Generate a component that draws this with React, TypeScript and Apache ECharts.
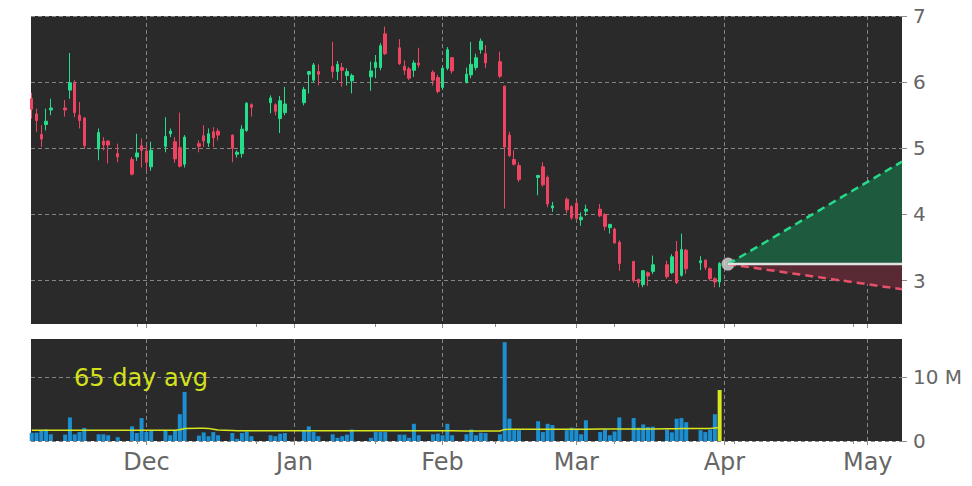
import { useEffect, useRef } from 'react';
import * as echarts from 'echarts';

// trading days, one line per week
const tradeDates = [
  '2022-11-07', '2022-11-08', '2022-11-09', '2022-11-10', '2022-11-11',
  '2022-11-14', '2022-11-15', '2022-11-16', '2022-11-17', '2022-11-18',
  '2022-11-21', '2022-11-22', '2022-11-23', '2022-11-25',
  '2022-11-28', '2022-11-29', '2022-11-30', '2022-12-01', '2022-12-02',
  '2022-12-05', '2022-12-06', '2022-12-07', '2022-12-08', '2022-12-09',
  '2022-12-12', '2022-12-13', '2022-12-14', '2022-12-15', '2022-12-16',
  '2022-12-19', '2022-12-20', '2022-12-21', '2022-12-22', '2022-12-23',
  '2022-12-27', '2022-12-28', '2022-12-29', '2022-12-30',
  '2023-01-03', '2023-01-04', '2023-01-05', '2023-01-06',
  '2023-01-09', '2023-01-10', '2023-01-11', '2023-01-12', '2023-01-13',
  '2023-01-17', '2023-01-18', '2023-01-19', '2023-01-20',
  '2023-01-23', '2023-01-24', '2023-01-25', '2023-01-26', '2023-01-27',
  '2023-01-30', '2023-01-31', '2023-02-01', '2023-02-02', '2023-02-03',
  '2023-02-06', '2023-02-07', '2023-02-08', '2023-02-09', '2023-02-10',
  '2023-02-13', '2023-02-14', '2023-02-15', '2023-02-16', '2023-02-17',
  '2023-02-21', '2023-02-22', '2023-02-23', '2023-02-24',
  '2023-02-27', '2023-02-28', '2023-03-01', '2023-03-02', '2023-03-03',
  '2023-03-06', '2023-03-07', '2023-03-08', '2023-03-09', '2023-03-10',
  '2023-03-13', '2023-03-14', '2023-03-15', '2023-03-16', '2023-03-17',
  '2023-03-20', '2023-03-21', '2023-03-22', '2023-03-23', '2023-03-24',
  '2023-03-27', '2023-03-28', '2023-03-29', '2023-03-30', '2023-03-31',
];

const openPrices = [
  5.75, 5.52, 5.21, 5.36, 5.58,
  5.61, 5.88, 5.98, 5.5, 5.46,
  4.99, 5.11, 5.11, 4.92,
  4.83, 4.87, 5.04, 4.96, 4.72,
  5.03, 5.22, 5.1, 5.01, 4.76,
  5.07, 5.19, 5.08, 5.25, 5.26,
  5.2, 4.91, 4.92, 5.27, 5.66,
  5.69, 5.66, 5.45, 5.54,
  5.69, 6.12, 6.03, 6.16,
  6.24, 6.16, 6.22, 6.1, 6.02,
  6.08, 6.22, 6.22, 6.73,
  6.52, 6.24, 6.2, 6.18, 6.29,
  6.15, 6.07, 5.92, 6.21, 6.37,
  6.0, 6.11, 6.22, 6.49, 6.43,
  6.31, 5.94, 5.2, 4.83, 4.74,
  4.56, 4.72, 4.56, 4.1,
  4.23, 4.12, 4.17, 3.92, 4.05,
  4.08, 4.0, 3.8, 3.78, 3.58,
  3.29, 3.02, 2.94, 3.12, 3.14,
  3.24, 3.12, 3.44, 3.08, 3.46,
  3.27, 3.31, 3.18, 3.03, 2.98,
];

const closePrices = [
  5.59, 5.42, 5.14, 5.41, 5.61,
  5.58, 5.99, 5.54, 5.42, 5.04,
  5.24, 5.05, 5.05, 4.87,
  4.61, 4.93, 4.97, 4.79, 4.97,
  5.18, 5.26, 4.84, 4.73, 5.17,
  5.03, 5.11, 5.22, 5.16, 5.2,
  5.0, 4.94, 5.29, 5.68, 5.62,
  5.76, 5.56, 5.72, 5.67,
  5.89, 6.16, 6.26, 6.12,
  6.16, 6.27, 6.18, 6.16, 6.1,
  6.17, 6.3, 6.55, 6.43,
  6.28, 6.18, 6.06, 6.29, 6.26,
  6.03, 5.86, 6.21, 6.49, 6.17,
  6.12, 6.27, 6.37, 6.62, 6.29,
  6.09, 5.02, 4.89, 4.76, 4.53,
  4.59, 4.45, 4.16, 4.13,
  4.07, 3.95, 3.94, 3.96, 4.08,
  3.98, 3.82, 3.85, 3.57, 3.26,
  3.0, 2.97, 3.15, 3.07, 3.24,
  3.06, 3.36, 2.97, 3.47, 3.18,
  3.3, 3.2, 3.03, 2.98, 3.26,
];

const lowPrices = [
  5.45, 5.25, 5.02, 5.27, 5.5,
  5.48, 5.75, 5.47, 5.3, 4.99,
  4.82, 4.97, 4.77, 4.79,
  4.59, 4.81, 4.71, 4.67, 4.66,
  4.94, 5.17, 4.78, 4.71, 4.71,
  4.94, 5.02, 5.02, 5.02, 5.12,
  4.79, 4.86, 4.86, 5.25, 5.48,
  5.53, 5.5, 5.23, 5.5,
  5.65, 5.83, 6.0, 5.95,
  6.06, 6.03, 5.93, 5.95, 5.83,
  5.87, 6.06, 6.18, 6.41,
  6.26, 6.11, 6.03, 6.08, 6.22,
  5.95, 5.83, 5.88, 6.18, 6.13,
  5.98, 6.06, 6.18, 6.43, 6.21,
  6.06, 4.09, 4.87, 4.74, 4.49,
  4.29, 4.42, 4.11, 4.04,
  4.02, 3.92, 3.91, 3.83, 3.98,
  3.96, 3.76, 3.71, 3.56, 3.15,
  2.97, 2.9, 2.9, 2.92, 3.1,
  3.03, 3.1, 2.95, 3.06, 3.1,
  3.16, 3.16, 3.0, 2.9, 2.9,
];

const highPrices = [
  5.84, 5.6, 5.35, 5.6, 5.75,
  5.73, 6.44, 6.03, 5.7, 5.47,
  5.3, 5.17, 5.12, 5.07,
  4.87, 5.22, 5.15, 5.04, 5.1,
  5.47, 5.3, 5.17, 5.54, 5.2,
  5.12, 5.35, 5.3, 5.32, 5.3,
  5.21, 4.97, 5.35, 5.7, 5.68,
  5.8, 5.68, 5.79, 5.93,
  5.93, 6.17, 6.29, 6.27,
  6.61, 6.32, 6.29, 6.21, 6.13,
  6.31, 6.41, 6.59, 6.84,
  6.65, 6.33, 6.23, 6.33, 6.52,
  6.18, 6.11, 6.24, 6.53, 6.38,
  6.22, 6.61, 6.43, 6.66, 6.56,
  6.46, 5.95, 5.25, 4.97, 4.79,
  4.6, 4.79, 4.59, 4.19,
  4.26, 4.14, 4.21, 4.03, 4.15,
  4.16, 4.02, 3.86, 3.8, 3.61,
  3.3, 3.03, 3.16, 3.14, 3.38,
  3.3, 3.4, 3.6, 3.71, 3.48,
  3.37, 3.32, 3.2, 3.05, 3.28,
];

// volume, millions of shares
const volumeM = [
  1.3, 1.3, 1.7, 1.8, 1.05,
  1.0, 3.7, 1.05, 1.4, 2.05,
  1.05, 1.05, 0.9, 0.6,
  2.3, 1.25, 3.6, 1.4, 1.7,
  1.6, 0.9, 1.7, 4.2, 7.7,
  0.85, 1.35, 0.75, 1.4, 0.9,
  1.25, 0.35, 1.25, 1.5, 0.75,
  0.9, 0.75, 1.15, 1.25,
  1.7, 2.3, 1.4, 0.75,
  1.05, 0.5, 0.75, 1.0, 1.8,
  0.5, 1.4, 1.4, 1.4,
  1.0, 1.0, 0.5, 2.7, 0.9,
  1.05, 1.15, 0.9, 2.7, 0.9,
  1.05, 1.8, 0.9, 1.3, 1.25,
  1.05, 15.5, 3.5, 1.7, 1.7,
  3.1, 1.4, 2.7, 2.5,
  1.7, 2.1, 1.95, 1.05, 3.25,
  1.4, 1.8, 0.9, 1.5, 3.7,
  3.6, 2.1, 2.6, 2.2, 2.25,
  1.8, 1.35, 3.5, 3.6, 2.95,
  1.7, 1.4, 1.8, 4.2, 8.0,
];

// 65 day average volume, millions
const avgVolumeM = [
  1.7, 1.7, 1.7, 1.7, 1.7,
  1.7, 1.7, 1.7, 1.7, 1.7,
  1.7, 1.7, 1.7, 1.7,
  1.7, 1.7, 1.7, 1.7, 1.7,
  1.7, 1.7, 1.7, 1.78, 1.95,
  2.0, 2.0, 1.98, 1.86, 1.74,
  1.66, 1.62, 1.61, 1.61, 1.6,
  1.6, 1.6, 1.6, 1.6,
  1.6, 1.6, 1.6, 1.6,
  1.6, 1.6, 1.6, 1.6, 1.6,
  1.6, 1.6, 1.6, 1.6,
  1.6, 1.59, 1.59, 1.59, 1.59,
  1.59, 1.59, 1.59, 1.59, 1.59,
  1.58, 1.58, 1.58, 1.58, 1.58,
  1.58, 1.82, 1.84, 1.84, 1.84,
  1.85, 1.85, 1.85, 1.85,
  1.86, 1.86, 1.86, 1.86, 1.86,
  1.87, 1.87, 1.87, 1.87, 1.87,
  1.9, 1.9, 1.9, 1.9, 1.9,
  1.92, 1.92, 1.94, 1.95, 1.96,
  1.96, 1.97, 1.98, 2.05, 2.1,
];

const monthTicks = ['2022-12-01', '2023-01-01', '2023-02-01', '2023-03-01', '2023-04-01', '2023-05-01'];
const minorTicks = ['2022-11-29', '2022-12-24', '2023-01-18', '2023-02-12', '2023-03-09', '2023-04-03', '2023-04-28'];
const monthNames = ['Jan', 'Feb', 'Mar', 'Apr', 'May', 'Jun', 'Jul', 'Aug', 'Sep', 'Oct', 'Nov', 'Dec'];
const priceTicks = [3, 4, 5, 6, 7];
const volumeTicks = [0, 10000000];

// projection from the last close
const forecastBase = 3.25;
const forecastHigh = 4.8;
const forecastLow = 2.87;

const DAY = 86400000;
const toTime = (s: string) => {
  const [y, m, d] = s.split('-').map(Number);
  return new Date(y, m - 1, d).getTime();
};
const xMin = toTime('2022-11-07') - 0.15 * DAY;
const xMax = toTime('2023-05-08') + 0.17 * DAY;
const forecastStart = toTime('2023-04-01') + 0.75 * DAY;

const FONT = 'DejaVu Sans';
const PANEL = '#2a2a2a';
const GRID_LINE = '#858585';
const TICK = '#8c8c8c';
const LABEL = '#666666';
const UP = '#24de8c';
const DOWN = '#ee4462';
const YELLOW = '#d8e61e';

export default function App() {
  const chartRef = useRef<HTMLDivElement>(null);

  useEffect(() => {
    if (!chartRef.current) return;
    const chart = echarts.init(chartRef.current, undefined, { renderer: 'svg' });

    const candles = tradeDates.map((d, i) => [toTime(d), openPrices[i], closePrices[i], lowPrices[i], highPrices[i]]);
    const volumes = tradeDates.map((d, i) =>
      i === tradeDates.length - 1
        ? { value: [toTime(d), volumeM[i] * 1e6], itemStyle: { color: YELLOW } }
        : [toTime(d), volumeM[i] * 1e6]
    );
    const avgLine = tradeDates.map((d, i) => [toTime(d), avgVolumeM[i] * 1e6]);

    const dashed = { color: GRID_LINE, type: [4, 3], width: 1 };

    // x is a plain value axis holding timestamps
    const dateAxis = (gridIndex: number, withLabels: boolean) => ({
      type: 'value',
      gridIndex,
      min: xMin,
      max: xMax,
      position: 'bottom',
      axisLine: { show: false },
      axisTick: { show: true, customValues: monthTicks.map(toTime), length: 4, lineStyle: { color: TICK } },
      axisLabel: withLabels
        ? {
            customValues: monthTicks.map(toTime),
            formatter: (v: number) => monthNames[new Date(v).getMonth()],
            fontSize: 24,
            fontFamily: FONT,
            color: LABEL,
            margin: 9,
          }
        : { show: false },
      splitLine: { show: true, lineStyle: dashed },
    });

    const minorAxis = (gridIndex: number) => ({
      type: 'value',
      gridIndex,
      min: xMin,
      max: xMax,
      position: 'bottom',
      axisLine: { show: false },
      axisTick: { show: true, customValues: minorTicks.map(toTime), length: 3, lineStyle: { color: TICK } },
      axisLabel: { show: false },
      splitLine: { show: false },
    });

    const option: any = {
      animation: false,
      textStyle: { fontFamily: FONT },
      grid: [
        { left: 31, right: 70, top: 16, height: 308, show: true, backgroundColor: PANEL, borderWidth: 0, outerBoundsMode: 'none' },
        { left: 31, right: 70, top: 339, height: 102, show: true, backgroundColor: PANEL, borderWidth: 0, outerBoundsMode: 'none' },
      ],
      xAxis: [dateAxis(0, false), dateAxis(1, true), minorAxis(0), minorAxis(1)],
      yAxis: [
        {
          type: 'value',
          gridIndex: 0,
          position: 'right',
          min: 2.345,
          max: 7,
          axisLine: { show: false },
          axisTick: { show: true, customValues: priceTicks, length: 5, lineStyle: { color: TICK } },
          axisLabel: { customValues: priceTicks, fontSize: 20, fontFamily: FONT, color: LABEL, margin: 11 },
          splitLine: { show: true, lineStyle: dashed },
        },
        {
          type: 'value',
          gridIndex: 1,
          position: 'right',
          min: 0,
          max: 16000000,
          axisLine: { show: false },
          axisTick: { show: true, customValues: volumeTicks, length: 5, lineStyle: { color: TICK } },
          axisLabel: {
            customValues: volumeTicks,
            formatter: (v: number) => (v === 0 ? '0' : `${v / 1e6} M`),
            fontSize: 20,
            fontFamily: FONT,
            color: LABEL,
            margin: 11,
          },
          splitLine: { show: true, lineStyle: dashed },
        },
      ],
      graphic: [
        {
          type: 'text',
          style: {
            text: '65 day avg',
            x: 74,
            y: 378,
            verticalAlign: 'middle',
            fill: '#d4e21c',
            font: `24px "${FONT}"`,
          },
          z: 100,
        },
      ],
      series: [
        {
          type: 'candlestick',
          xAxisIndex: 0,
          yAxisIndex: 0,
          data: candles,
          barWidth: 3,
          itemStyle: { color: UP, color0: DOWN, borderColor: UP, borderColor0: DOWN, borderWidth: 1 },
        },
        {
          type: 'line',
          xAxisIndex: 0,
          yAxisIndex: 0,
          data: [[forecastStart, forecastBase], [xMax, forecastHigh]],
          symbol: 'none',
          lineStyle: { color: '#27d98a', type: [8, 5], width: 2.5 },
          areaStyle: { origin: forecastBase, color: '#1e5a3e', opacity: 1 },
        },
        {
          type: 'line',
          xAxisIndex: 0,
          yAxisIndex: 0,
          data: [[forecastStart, forecastBase], [xMax, forecastLow]],
          symbol: 'none',
          lineStyle: { color: '#e8506a', type: [8, 5], width: 2.5 },
          areaStyle: { origin: forecastBase, color: '#5a2a34', opacity: 1 },
        },
        {
          type: 'line',
          xAxisIndex: 0,
          yAxisIndex: 0,
          data: [[forecastStart, forecastBase], [xMax, forecastBase]],
          symbol: 'none',
          lineStyle: { color: '#e2e2e2', width: 2.5 },
        },
        {
          type: 'scatter',
          xAxisIndex: 0,
          yAxisIndex: 0,
          data: [[forecastStart, forecastBase]],
          symbolSize: 13,
          itemStyle: { color: '#dadada' },
        },
        {
          type: 'bar',
          xAxisIndex: 1,
          yAxisIndex: 1,
          data: volumes,
          barWidth: 4,
          itemStyle: { color: '#1b8fd2' },
        },
        {
          type: 'line',
          xAxisIndex: 1,
          yAxisIndex: 1,
          data: avgLine,
          symbol: 'none',
          lineStyle: { color: YELLOW, width: 1.5 },
        },
      ],
    };

    chart.setOption(option);

    return () => {
      chart.dispose();
    };
  }, []);

  return (
    <div
      ref={chartRef}
      style={{ position: 'fixed', left: 0, top: 0, width: 972, height: 486, background: '#ffffff' }}
    />
  );
}
